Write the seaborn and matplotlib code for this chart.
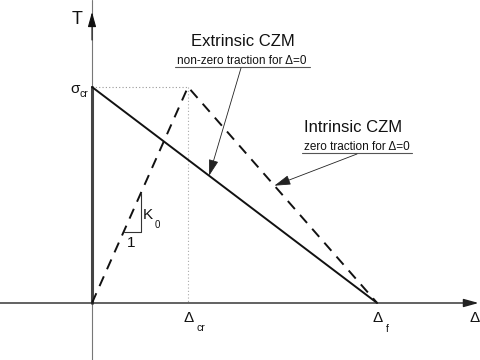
import numpy as np
import pandas as pd
import matplotlib
matplotlib.use("Agg")
import matplotlib.pyplot as plt
import seaborn as sns

# traction-separation laws (normalised units)
sigma_cr = 1.0
delta_cr = 1.0
delta_f = 2.97

extrinsic_delta = [0.0, delta_f]
extrinsic_T = [sigma_cr, 0.0]
extrinsic_jump_delta = [0.0, 0.0]
extrinsic_jump_T = [0.0, sigma_cr]

intrinsic_delta = [0.0, delta_cr, delta_f]
intrinsic_T = [0.0, sigma_cr, 0.0]

# slope triangle on the initial stiffness K0
K0 = sigma_cr / delta_cr
tri_delta = [0.33, 0.51, 0.51]
tri_T = [K0 * 0.33, K0 * 0.33, K0 * 0.51]

W, H = 480, 360


def fp(px, py):
    """pixel position (from top-left) -> axes fraction"""
    return px / W, 1 - py / H


sns.set_theme(style="white")
plt.rcParams["font.family"] = ["Liberation Sans", "DejaVu Sans"]
plt.rcParams["text.color"] = "#111111"

fig = plt.figure(figsize=(4.8, 3.6), dpi=100)
ax = fig.add_axes([0, 0, 1, 1])
ax.set_xlim(-92 / 96, (W - 92) / 96)
ax.set_ylim((303 - H) / 216, 303 / 216)
ax.axis("off")

# axes with arrows
ax.annotate("", xy=(0.997, 0), xytext=(0.0, 0), xycoords=("axes fraction", "data"),
            textcoords=("axes fraction", "data"),
            arrowprops=dict(arrowstyle="-|>,head_length=0.9,head_width=0.25",
                            color="#222222", lw=1.0, mutation_scale=10, shrinkA=0, shrinkB=0))
ax.plot([0, 0], [0.0, 1.0], transform=ax.get_xaxis_transform(), color="#777777", lw=0.8)
ax.annotate("", xy=(0, fp(0, 12)[1]), xytext=(0, fp(0, 40)[1]),
            xycoords=("data", "axes fraction"), textcoords=("data", "axes fraction"),
            arrowprops=dict(arrowstyle="-|>,head_length=0.9,head_width=0.25",
                            color="#111111", lw=0.8, mutation_scale=10, shrinkA=0, shrinkB=0))

# helper dotted lines at the peak
ax.plot([0, delta_cr], [sigma_cr, sigma_cr], color="#999999", lw=0.8, ls=(0, (1, 2)))
ax.plot([delta_cr, delta_cr], [sigma_cr, 0], color="#aaaaaa", lw=0.8, ls=(0, (1, 2)))

# curves
sns.lineplot(x=extrinsic_jump_delta, y=extrinsic_jump_T, sort=False, estimator=None,
             color="#444444", lw=2.2, ax=ax)
sns.lineplot(x=extrinsic_delta, y=extrinsic_T, sort=False, estimator=None,
             color="#111111", lw=1.4, ax=ax)
sns.lineplot(x=intrinsic_delta, y=intrinsic_T, sort=False, estimator=None,
             color="#111111", lw=1.4, linestyle=(0, (5.5, 4)), ax=ax)
sns.lineplot(x=tri_delta, y=tri_T, sort=False, estimator=None,
             color="#333333", lw=0.8, ax=ax)

# axis labels
ax.text(*fp(77, 20), "T", transform=ax.transAxes, ha="center", va="center", fontsize=13)
ax.text(*fp(75, 89), "σ", transform=ax.transAxes, ha="center", va="center", fontsize=11)
ax.text(*fp(84, 94), "cr", transform=ax.transAxes, ha="center", va="center", fontsize=7.5)
ax.text(*fp(189, 318), "Δ", transform=ax.transAxes, ha="center", va="center", fontsize=11)
ax.text(*fp(201, 328), "cr", transform=ax.transAxes, ha="center", va="center", fontsize=7.5)
ax.text(*fp(378, 318), "Δ", transform=ax.transAxes, ha="center", va="center", fontsize=11)
ax.text(*fp(387, 329), "f", transform=ax.transAxes, ha="center", va="center", fontsize=7.5)
ax.text(*fp(469, 318), "Δ", transform=ax.transAxes, ha="left", va="center", fontsize=11)
ax.text(*fp(148, 215), "K", transform=ax.transAxes, ha="center", va="center", fontsize=11)
ax.text(*fp(157, 225), "0", transform=ax.transAxes, ha="center", va="center", fontsize=7)
ax.text(*fp(131, 243), "1", transform=ax.transAxes, ha="center", va="center", fontsize=11)

# callouts
arrow_kw = dict(arrowstyle="-|>,head_length=1.0,head_width=0.3", color="#222222",
                lw=0.6, mutation_scale=10, shrinkA=0, shrinkB=0)

ax.text(*fp(243, 42), "Extrinsic CZM", transform=ax.transAxes, ha="center", va="center",
        fontsize=12)
ax.text(*fp(242, 64), "non-zero traction for Δ=0", transform=ax.transAxes, ha="center",
        va="baseline", fontsize=8.5)
ax.plot(*zip(fp(175, 67), fp(310, 67)), transform=ax.transAxes, color="#555555", lw=0.8)
d_ext = 1.22
ax.annotate("", xy=(d_ext, sigma_cr * (1 - d_ext / delta_f)), xytext=fp(241, 68),
            textcoords="axes fraction", arrowprops=arrow_kw)

ax.text(*fp(353, 127), "Intrinsic CZM", transform=ax.transAxes, ha="center", va="center",
        fontsize=12)
ax.text(*fp(357, 150), "zero traction for Δ=0", transform=ax.transAxes, ha="center",
        va="baseline", fontsize=8.5)
ax.plot(*zip(fp(302, 153), fp(412, 153)), transform=ax.transAxes, color="#555555", lw=0.8)
d_int = 1.9
ax.annotate("", xy=(d_int, sigma_cr * (delta_f - d_int) / (delta_f - delta_cr)),
            xytext=fp(357, 154), textcoords="axes fraction", arrowprops=arrow_kw)

fig.savefig("out.png", dpi=100)
